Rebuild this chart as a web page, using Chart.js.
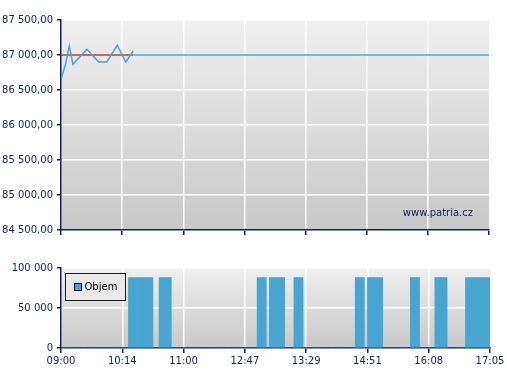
<!doctype html>
<html lang="cs">
<head>
<meta charset="utf-8">
<title>Kurz a objem</title>
<script src="https://cdn.jsdelivr.net/npm/chart.js@4/dist/chart.umd.min.js"></script>
<style>
  body { margin: 0; background: #fff; }
  #wrap { position: relative; width: 507px; height: 380px; }
  #priceChart { position: absolute; left: 0; top: 0; }
  #volChart { position: absolute; left: 0; top: 245px; }
</style>
</head>
<body>
<div id="wrap">
  <canvas id="priceChart" width="507" height="245"></canvas>
  <canvas id="volChart" width="507" height="135"></canvas>
</div>
<script>
// x axis is in "slots": 20 slots between two time labels
var timeLabels = ['09:00', '10:14', '11:00', '12:47', '13:29', '14:51', '16:08', '17:05'];

var priceX = [0, 1.5, 2.7, 3.9, 8.5, 12.3, 15, 18.4, 21.2, 23.6];
var priceY = [86653, 86867, 87129, 86867, 87081, 86900, 86900, 87139, 86900, 87057];
var refPrice = 87000;

// volume per slot, one row per label interval
var volume = [
  0, 0, 0, 0, 0, 0, 0, 0, 0, 0, 0, 0, 0, 0, 0, 0, 0, 0, 0, 0,
  0, 0, 88000, 88000, 88000, 88000, 88000, 88000, 88000, 88000, 0, 0, 88000, 88000, 88000, 88000, 0, 0, 0, 0,
  0, 0, 0, 0, 0, 0, 0, 0, 0, 0, 0, 0, 0, 0, 0, 0, 0, 0, 0, 0,
  0, 0, 0, 0, 88000, 88000, 88000, 0, 88000, 88000, 88000, 88000, 88000, 0, 0, 0, 88000, 88000, 88000, 0,
  0, 0, 0, 0, 0, 0, 0, 0, 0, 0, 0, 0, 0, 0, 0, 0, 88000, 88000, 88000, 0,
  88000, 88000, 88000, 88000, 88000, 0, 0, 0, 0, 0, 0, 0, 0, 0, 88000, 88000, 88000, 0, 0, 0,
  0, 0, 88000, 88000, 88000, 88000, 0, 0, 0, 0, 0, 0, 88000, 88000, 88000, 88000, 88000, 88000, 88000, 88000
];

var navy = '#0c2252';
var blue = '#47a5cf';
var slotsPerLabel = 20;
var lastSlot = (timeLabels.length - 1) * slotsPerLabel;

Chart.defaults.font.family = '"DejaVu Sans", Verdana, sans-serif';
Chart.defaults.font.size = 10;
Chart.defaults.color = navy;
Chart.defaults.animation = false;

function spaced(n) {
  return String(n).replace(/\B(?=(\d{3})+(?!\d))/g, ' ');
}

var plotBg = {
  id: 'plotBg',
  beforeDraw: function(chart) {
    var a = chart.chartArea, c = chart.ctx;
    var g = c.createLinearGradient(0, a.top, 0, a.bottom);
    g.addColorStop(0, '#efefef');
    g.addColorStop(1, '#c8c8c8');
    c.save();
    c.fillStyle = g;
    c.fillRect(a.left, a.top, a.right - a.left, a.bottom - a.top);
    c.restore();
  }
};

var watermark = {
  id: 'watermark',
  afterDraw: function(chart) {
    var a = chart.chartArea, c = chart.ctx;
    c.save();
    c.font = '10px "DejaVu Sans", Verdana, sans-serif';
    c.fillStyle = navy;
    c.textAlign = 'right';
    c.textBaseline = 'middle';
    c.fillText('www.patria.cz', a.right - 16, a.bottom - 17);
    c.restore();
  }
};

var legendBox = {
  id: 'legendBox',
  afterDraw: function(chart) {
    var a = chart.chartArea, c = chart.ctx;
    var ds = chart.data.datasets[0];
    var x = a.left + 4.5, y = a.top + 5.5;
    c.save();
    c.fillStyle = '#e9e9e9';
    c.fillRect(x, y, 60, 27);
    c.strokeStyle = '#1a1a1a';
    c.lineWidth = 1;
    c.strokeRect(x, y, 60, 27);
    c.fillStyle = ds.backgroundColor;
    c.fillRect(x + 9, y + 10, 7, 7);
    c.strokeStyle = '#000';
    c.strokeRect(x + 9, y + 10, 7, 7);
    c.font = '10px "DejaVu Sans", Verdana, sans-serif';
    c.fillStyle = '#000';
    c.textBaseline = 'middle';
    c.fillText(ds.label, x + 19, y + 14);
    c.restore();
  }
};

function xScale(showLabels, height) {
  return {
    type: 'linear',
    min: 0,
    max: lastSlot,
    offset: false,
    afterFit: function(s) { s.height = height; },
    grid: {
      offset: false,
      color: function(ctx) { return ctx.index === timeLabels.length - 1 ? 'rgba(0,0,0,0)' : '#ffffff'; },
      lineWidth: 1.5,
      tickColor: navy,
      tickLength: 5
    },
    border: { color: navy, width: 1.5 },
    ticks: {
      display: showLabels,
      stepSize: slotsPerLabel,
      maxRotation: 0,
      padding: 2,
      color: navy,
      callback: function(v) { return timeLabels[v / slotsPerLabel]; }
    }
  };
}

function yScale(min, max, step, fmt) {
  return {
    min: min,
    max: max,
    afterFit: function(s) { s.width = 61; },
    grid: { color: '#ffffff', lineWidth: 1.5, tickColor: navy, tickLength: 4 },
    border: { color: navy, width: 1.5 },
    ticks: { stepSize: step, padding: 4, color: navy, callback: fmt }
  };
}

var pricePts = priceX.map(function(x, i) { return { x: x, y: priceY[i] }; });
var lastX = priceX[priceX.length - 1];

new Chart(document.getElementById('priceChart'), {
  type: 'line',
  data: {
    datasets: [
      {
        label: 'Cena',
        data: pricePts,
        borderColor: blue,
        borderWidth: 1.5,
        pointRadius: 0,
        tension: 0,
        order: 1
      },
      {
        label: 'Ref',
        data: [{ x: 0, y: refPrice }, { x: lastX, y: refPrice }],
        borderColor: '#c4302a',
        borderWidth: 1.5,
        pointRadius: 0,
        order: 2
      },
      {
        label: 'Posledni',
        data: [{ x: lastX, y: refPrice }, { x: lastSlot, y: refPrice }],
        borderColor: blue,
        borderWidth: 1.5,
        pointRadius: 0,
        order: 0
      }
    ]
  },
  options: {
    responsive: false,
    layout: { padding: { top: 20, right: 18, left: 0, bottom: 0 } },
    plugins: { legend: { display: false }, tooltip: { enabled: false } },
    scales: {
      x: xScale(false, 15),
      y: yScale(84500, 87500, 500, function(v) {
        var p = v.toFixed(2).split('.');
        return spaced(p[0]) + ',' + p[1];
      })
    }
  },
  plugins: [plotBg, watermark]
});

new Chart(document.getElementById('volChart'), {
  type: 'bar',
  data: {
    datasets: [{
      label: 'Objem',
      data: volume.map(function(v, i) { return { x: i + 0.5, y: v }; }),
      backgroundColor: blue,
      borderWidth: 0,
      barPercentage: 1,
      categoryPercentage: 1
    }]
  },
  options: {
    responsive: false,
    layout: { padding: { top: 23, right: 17, left: 0, bottom: 0 } },
    plugins: { legend: { display: false }, tooltip: { enabled: false } },
    scales: {
      x: xScale(true, 32),
      y: yScale(0, 100000, 50000, function(v) { return spaced(v); })
    }
  },
  plugins: [plotBg, legendBox]
});
</script>
</body>
</html>
